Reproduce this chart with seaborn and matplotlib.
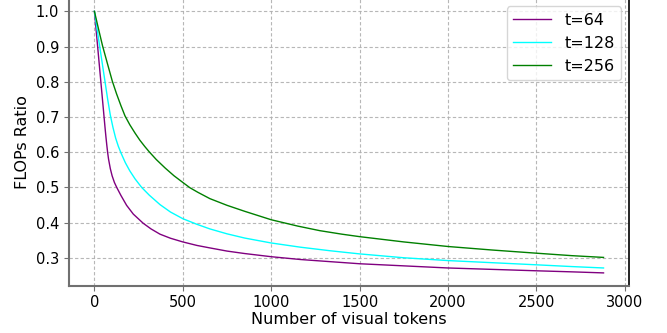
import matplotlib
matplotlib.use("Agg")
import matplotlib.pyplot as plt
import pandas as pd
import seaborn as sns

# FLOPs ratio vs. number of visual tokens, one curve per retained-token budget t
n_t64 = [0, 10, 20, 30, 40, 50, 60, 65, 70, 75, 80, 90, 100, 113, 126, 150, 182, 220, 276, 320,
         371, 430, 500, 580, 653, 750, 850, 1000, 1166, 1332, 1500, 1750, 2000, 2250, 2500, 2700, 2880]
r_t64 = [1.0, 0.945, 0.89, 0.835, 0.78, 0.725, 0.67, 0.644, 0.62, 0.598, 0.58, 0.553, 0.533, 0.514, 0.5,
         0.477, 0.449, 0.424, 0.398, 0.382, 0.367, 0.3555, 0.345, 0.335, 0.328, 0.319, 0.312, 0.303,
         0.295, 0.289, 0.283, 0.277, 0.271, 0.267, 0.263, 0.260, 0.257]

n_t128 = [0, 15, 30, 45, 60, 75, 90, 105, 120, 135, 150, 175, 200, 230, 267, 310, 371, 430, 500,
          580, 653, 750, 850, 1000, 1166, 1332, 1500, 1750, 2000, 2250, 2500, 2700, 2880]
r_t128 = [1.0, 0.95, 0.90, 0.85, 0.80, 0.75, 0.705, 0.67, 0.64, 0.617, 0.598, 0.57, 0.547, 0.524,
          0.5, 0.478, 0.451, 0.43, 0.411, 0.395, 0.382, 0.368, 0.356, 0.342, 0.330, 0.320, 0.311,
          0.300, 0.292, 0.286, 0.280, 0.275, 0.271]

n_t256 = [0, 25, 46, 75, 101, 125, 150, 173, 200, 230, 257, 285, 310, 350, 400, 450, 500, 540, 585,
          653, 750, 850, 1000, 1150, 1275, 1400, 1500, 1750, 2000, 2250, 2500, 2700, 2880]
r_t256 = [1.0, 0.946, 0.902, 0.849, 0.802, 0.766, 0.732, 0.703, 0.678, 0.654, 0.634, 0.616, 0.601,
          0.579, 0.555, 0.533, 0.514, 0.499, 0.486, 0.468, 0.449, 0.432, 0.408, 0.39, 0.377, 0.367,
          0.36, 0.345, 0.332, 0.322, 0.313, 0.306, 0.301]

labels = ["t=64", "t=128", "t=256"]
colors = ["purple", "cyan", "green"]

frames = []
for lab, xs, ys in zip(labels, [n_t64, n_t128, n_t256], [r_t64, r_t128, r_t256]):
    frames.append(pd.DataFrame({"tokens": xs, "ratio": ys, "series": lab}))
df = pd.concat(frames, ignore_index=True)

plt.rcParams["font.family"] = ["DejaVu Sans"]

fig = plt.figure(figsize=(6.67, 3.33), dpi=100)
ax = fig.add_axes([0.1034, 0.142, 0.8396, 0.863])

sns.lineplot(data=df, x="tokens", y="ratio", hue="series", hue_order=labels,
             palette=dict(zip(labels, colors)), linewidth=1.0, ax=ax,
             estimator=None, sort=True)

ax.set_xticks([0, 500, 1000, 1500, 2000, 2500, 3000])
ax.set_yticks([0.3, 0.4, 0.5, 0.6, 0.7, 0.8, 0.9, 1.0])
ax.set_xlim(-144, 3024)
ax.set_ylim(0.2206, 1.037)

ax.grid(True, linestyle=(0, (3, 2)), color="#b0b0b0", linewidth=0.8, alpha=0.9)
ax.set_axisbelow(True)

for side in ["left", "bottom"]:
    ax.spines[side].set_color("#707070")
    ax.spines[side].set_linewidth(1.5)
ax.spines["right"].set_color("black")
ax.spines["right"].set_linewidth(1.2)
ax.spines["top"].set_visible(False)

ax.tick_params(axis="both", labelsize=10.5, colors="#707070", labelcolor="black", length=3.5)

ax.set_xlabel("Number of visual tokens", fontsize=11.5, labelpad=1)
ax.set_ylabel("FLOPs Ratio", fontsize=11.5, labelpad=4)

leg = ax.legend(loc="upper right", fontsize=11.5, title=None, handlelength=2.4)
leg.get_frame().set_edgecolor("#cccccc")

fig.savefig("out.png", dpi=100)
